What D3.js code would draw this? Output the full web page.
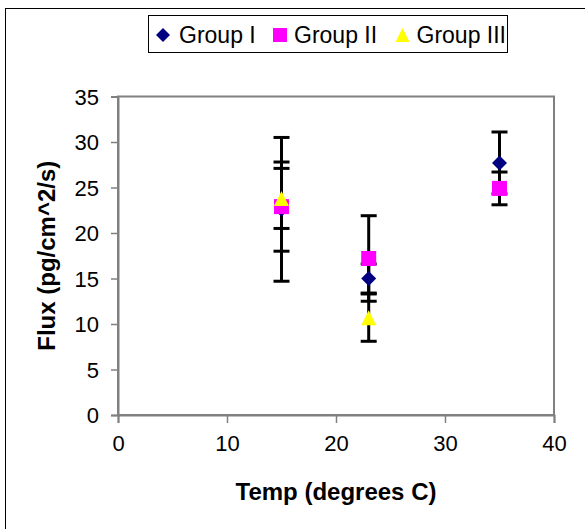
<!DOCTYPE html>
<html>
<head>
<meta charset="utf-8">
<script src="https://cdn.jsdelivr.net/npm/d3@7"></script>
<style>
  html, body { margin: 0; padding: 0; background: white; }
  svg { display: block; font-family: "Liberation Sans", Arial, sans-serif; }
</style>
</head>
<body>
<div id="chart"></div>
<script>
// data
const groups = ["Group I", "Group II", "Group III"];
const temps = [15, 23, 35];
const groupI = [22.6, 15.0, 27.7];
const groupIErr = [7.9, 1.6, 3.4];
const groupII = [22.9, 17.2, 24.9];
const groupIIErr = [4.9, 4.7, 1.8];
const groupIII = [23.8, 10.7, null];
const groupIIIErr = [3.3, 2.6, null];
const xTicks = [0, 10, 20, 30, 40];
const yTicks = [0, 5, 10, 15, 20, 25, 30, 35];

const colors = ["#000080", "#FF00FF", "#FFFF00"];
const shapes = ["diamond", "square", "triangle"];

const width = 585, height = 529;
const plot = { left: 118, right: 554, top: 96.5, bottom: 415 };

const svg = d3.select("#chart").append("svg")
    .attr("width", width)
    .attr("height", height);

// outer chart border (right/bottom run off the picture)
svg.append("rect")
    .attr("x", 5.5).attr("y", 8.5)
    .attr("width", 600).attr("height", 600)
    .attr("fill", "white")
    .attr("stroke", "black")
    .attr("stroke-width", 1);

const x = d3.scaleLinear().domain([0, 40]).range([plot.left, plot.right]);
const y = d3.scaleLinear().domain([0, 35]).range([plot.bottom, plot.top]);

// plot area frame
svg.append("rect")
    .attr("x", plot.left).attr("y", plot.top)
    .attr("width", plot.right - plot.left)
    .attr("height", plot.bottom - plot.top)
    .attr("fill", "white")
    .attr("stroke", "#808080")
    .attr("stroke-width", 2);

// axes
const xAxis = svg.append("g")
    .attr("transform", `translate(0,${plot.bottom})`)
    .call(d3.axisBottom(x).tickValues(xTicks).tickSize(8).tickPadding(12));
const yAxis = svg.append("g")
    .attr("transform", `translate(${plot.left},0)`)
    .call(d3.axisLeft(y).tickValues(yTicks).tickSize(7).tickPadding(12));

[xAxis, yAxis].forEach(a => {
    a.select(".domain").attr("stroke", "#808080").attr("stroke-width", 2);
    a.selectAll(".tick line").attr("stroke", "#808080").attr("stroke-width", 1.5);
    a.selectAll(".tick text")
        .attr("fill", "black")
        .style("font-size", "22px")
        .style("font-family", "Liberation Sans, Arial, sans-serif");
});
yAxis.selectAll(".tick text").attr("dy", "0.36em");

// axis titles
svg.append("text")
    .attr("x", (plot.left + plot.right) / 2)
    .attr("y", 500)
    .attr("text-anchor", "middle")
    .style("font-size", "24px")
    .style("font-weight", "bold")
    .text("Temp (degrees C)");

svg.append("text")
    .attr("transform", `translate(55,${(plot.top + plot.bottom) / 2}) rotate(-90)`)
    .attr("text-anchor", "middle")
    .style("font-size", "24px")
    .style("font-weight", "bold")
    .text("Flux (pg/cm^2/s)");

function markerPath(shape, s) {
    const h = s / 2;
    if (shape === "diamond") return `M0,${-h}L${h},0L0,${h}L${-h},0Z`;
    if (shape === "square") return `M${-h},${-h}H${h}V${h}H${-h}Z`;
    return `M0,${-h}L${h},${h}L${-h},${h}Z`;
}

const series = [
    { vals: groupI, errs: groupIErr },
    { vals: groupII, errs: groupIIErr },
    { vals: groupIII, errs: groupIIIErr }
].map((s, i) => ({
    name: groups[i],
    color: colors[i],
    shape: shapes[i],
    points: temps.map((t, j) => ({ t, v: s.vals[j], e: s.errs[j] })).filter(p => p.v != null)
}));

// error bars (behind markers)
const capW = 8;
series.forEach(s => {
    const g = svg.append("g").attr("stroke", "black").attr("stroke-width", 3);
    s.points.forEach(p => {
        const cx = x(p.t), y1 = y(p.v + p.e), y2 = y(p.v - p.e);
        g.append("line").attr("x1", cx).attr("x2", cx).attr("y1", y1).attr("y2", y2);
        g.append("line").attr("x1", cx - capW).attr("x2", cx + capW).attr("y1", y1).attr("y2", y1);
        g.append("line").attr("x1", cx - capW).attr("x2", cx + capW).attr("y1", y2).attr("y2", y2);
    });
});

// markers
series.forEach(s => {
    svg.append("g").selectAll("path")
        .data(s.points)
        .enter()
        .append("path")
        .attr("transform", p => `translate(${x(p.t)},${y(p.v)})`)
        .attr("d", markerPath(s.shape, 15))
        .attr("fill", s.color);
});

// legend
const legend = svg.append("g");
legend.append("rect")
    .attr("x", 148.5).attr("y", 15.5)
    .attr("width", 359).attr("height", 37)
    .attr("fill", "white")
    .attr("stroke", "black")
    .attr("stroke-width", 1);

const legendMarkX = [163, 280, 402.5];
const legendTextX = [179, 294, 416.5];
series.forEach((s, i) => {
    legend.append("path")
        .attr("transform", `translate(${legendMarkX[i]},35)`)
        .attr("d", markerPath(s.shape, 14))
        .attr("fill", s.color);
    legend.append("text")
        .attr("x", legendTextX[i])
        .attr("y", 43)
        .style("font-size", "23px")
        .text(s.name);
});
</script>
</body>
</html>
